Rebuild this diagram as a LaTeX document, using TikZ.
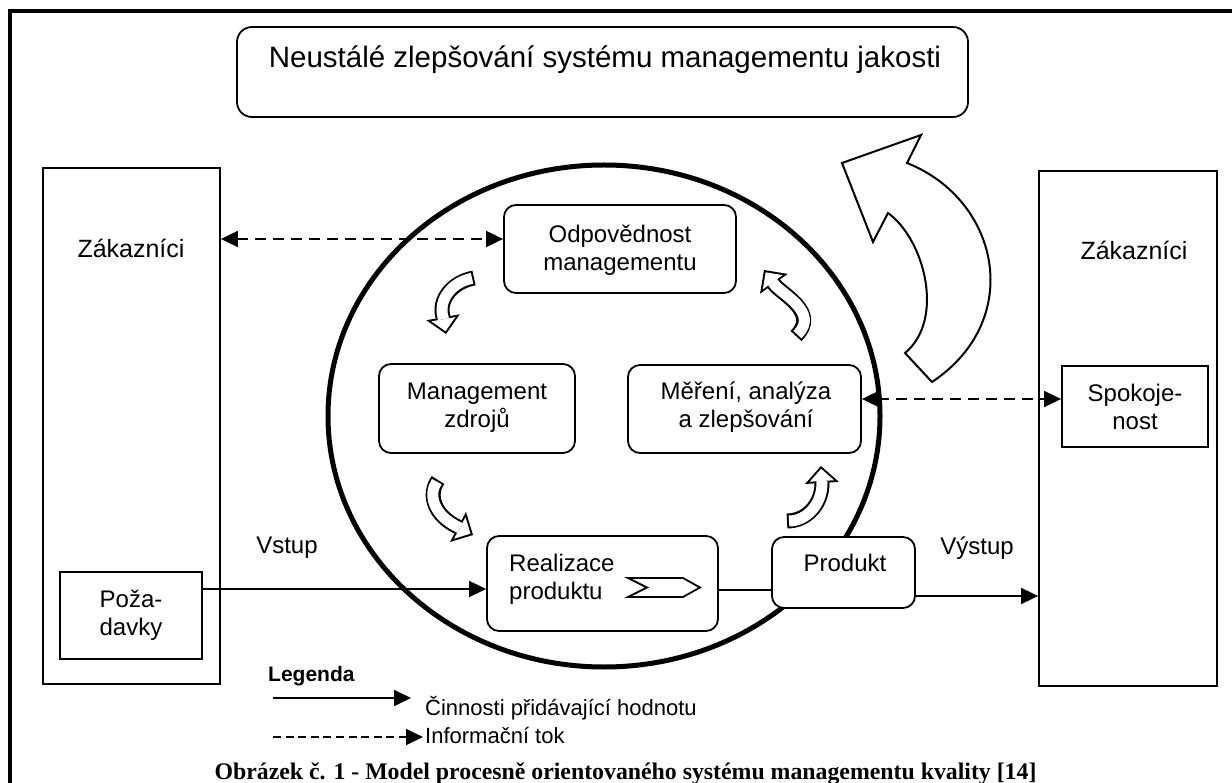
\documentclass[tikz,border=0pt]{standalone}
\usepackage{fontspec}
\setmainfont{Liberation Sans}
\newfontfamily\capfont{Liberation Serif}
\usetikzlibrary{arrows.meta,shapes.geometric}
\begin{document}
\begin{tikzpicture}[x=1pt,y=-1pt,
  sqbox/.style={draw,line width=1.8pt,fill=white,inner sep=0pt},
  rbox/.style={sqbox,rounded corners=12pt},
  lbl/.style={font=\fontsize{24pt}{28pt}\selectfont,align=center,inner sep=0pt},
  conn/.style={line width=1.8pt,-{Triangle[length=17pt,width=16pt]}},
  dconn/.style={line width=1.8pt,dash pattern=on 11pt off 7pt,{Triangle[length=17pt,width=16pt]}-{Triangle[length=17pt,width=16pt]}},
  hout/.style={line width=15pt,draw=black,-{Triangle[length=17pt,width=34pt,line width=0pt]}},
  hin/.style={line width=11pt,draw=white,shorten <=2pt,shorten >=2.83pt,-{Triangle[length=12.17pt,width=24.3pt,line width=0pt]}},
]
\useasboundingbox (0,0) rectangle (1232,783);
\fill[white] (0,0) rectangle (1232,783);
% outer frame (right and bottom sides lie outside the picture)
\draw[line width=4.5pt] (10,11) rectangle (1262,812);

% title
\node[rbox,rounded corners=15pt,minimum width=731pt,minimum height=90pt] (title) at (602.5,72) {};
\node[inner sep=0pt,anchor=base,font=\fontsize{29.5pt}{34pt}\selectfont] (titletext) at (605,68) {Neustálé zlepšování systému managementu jakosti};

% customers
\node[sqbox,minimum width=177pt,minimum height=516pt] (lc) at (131.5,426) {};
\node[lbl,anchor=base,font=\fontsize{25pt}{30pt}\selectfont] (lctext) at (131,258) {Zákazníci};
\node[sqbox,minimum width=142pt,minimum height=87pt] (req) at (131,615.5) {};
\node[lbl] (reqtext) at (131,615.5) {Poža-\\davky};

\node[sqbox,minimum width=178pt,minimum height=515pt] (rc) at (1128,428.5) {};
\node[lbl,anchor=base,font=\fontsize{25pt}{30pt}\selectfont] (rctext) at (1134,260) {Zákazníci};
\node[sqbox,minimum width=146pt,minimum height=81pt] (spok) at (1135,406.5) {};
\node[lbl] (spoktext) at (1135,406.5) {Spokoje-\\nost};

% process circle
\node[ellipse,draw,line width=5pt,minimum width=552pt,minimum height=502pt,inner sep=0pt] (cyc) at (604,416) {};

% process boxes
\node[rbox,minimum width=232pt,minimum height=88pt] (resp) at (620,249) {};
\node[lbl] (resptext) at (620,250) {Odpovědnost\\managementu};
\node[rbox,minimum width=196pt,minimum height=89pt] (res) at (477,408.5) {};
\node[lbl] (restext) at (477,408) {Management\\zdrojů};
\node[rbox,minimum width=233pt,minimum height=88pt] (meas) at (744.5,409) {};
\node[lbl] (meastext) at (746,407) {Měření, analýza\\a zlepšování};
\node[rbox,minimum width=231pt,minimum height=95pt] (real) at (602.5,583.5) {};
\node[lbl,align=left,anchor=west] (realtext) at (509,579) {Realizace\\produktu};
\draw[line width=1.8pt,line join=miter] (628,578) -- (683,578) -- (700,587.5) -- (683,597) -- (628,597) -- (647,587.5) -- cycle;
\node[rbox,minimum width=143pt,minimum height=71pt] (prod) at (843.5,572.5) {};
\node[lbl] (prodtext) at (845,563) {Produkt};

% connector levels
\coordinate (ytop) at (0,239);
\coordinate (ymeas) at (0,399);
\coordinate (yin) at (0,589);
\coordinate (ymid) at (0,590);
\coordinate (yout) at (0,596);

\draw[dconn] (lc.east |- ytop) -- (resp.west |- ytop);
\draw[dconn] (meas.east |- ymeas) -- (spok.west |- ymeas);
\draw[conn] (req.east |- yin) -- (real.west |- yin);
\draw[line width=1.8pt] (real.east |- ymid) -- (prod.west |- ymid);
\draw[conn] (prod.east |- yout) -- (rc.west |- yout);
\node[lbl] (vstup) at (287,548) {Vstup};
\node[lbl] (vystup) at (977,548) {Výstup};

% small hollow cycle arrows
\def\arA{(474,278) .. controls (452,282) and (438,300) .. (443,317) -- (446,334)}
\def\arB{(438,480) .. controls (428,494) and (433,515) .. (458,527) -- (473,535)}
\def\arC{(787,521) .. controls (806,521) and (822,505) .. (822,483) -- (821,466)}
\def\arD{(796,336) .. controls (820,312) and (781,294) .. (774,284) -- (764,270)}
\draw[hout] \arA; \draw[hin] \arA;
\draw[hout] \arB; \draw[hin] \arB;
\draw[hout] \arC; \draw[hin] \arC;
\draw[hout] \arD; \draw[hin] \arD;

% big improvement arrow
\draw[line width=2pt,fill=white,line join=miter] (842,163) -- (921,135) -- (907,163)
  .. controls (1000,200) and (1025,320) .. (932,382) -- (905,353)
  .. controls (945,320) and (925,240) .. (888,213) -- (873,242) -- cycle;

% legend
\node[inner sep=0pt,anchor=west,font=\bfseries\fontsize{21pt}{25pt}\selectfont] (leg) at (268,676) {Legenda};
\coordinate (l1a) at (273,698);
\coordinate (l1b) at (411,698);
\draw[conn] (l1a) -- (l1b);
\node[inner sep=0pt,anchor=west,font=\fontsize{22pt}{26pt}\selectfont] (leg1) at (425,708) {Činnosti přidávající hodnotu};
\coordinate (l2a) at (273,737);
\coordinate (l2b) at (423,737);
\draw[line width=1.8pt,dash pattern=on 8pt off 4.6pt,-{Triangle[length=17pt,width=16pt]}] (l2a) -- (l2b);
\node[inner sep=0pt,anchor=west,font=\fontsize{22pt}{26pt}\selectfont] (leg2) at (425,736) {Informační tok};

% caption
\node[inner sep=0pt,anchor=base,font=\capfont\bfseries\fontsize{23.8pt}{28pt}\selectfont] (cap) at (625.5,779) {Obrázek č. 1 - Model procesně orientovaného systému managementu kvality [14]};
\end{tikzpicture}
\end{document}
